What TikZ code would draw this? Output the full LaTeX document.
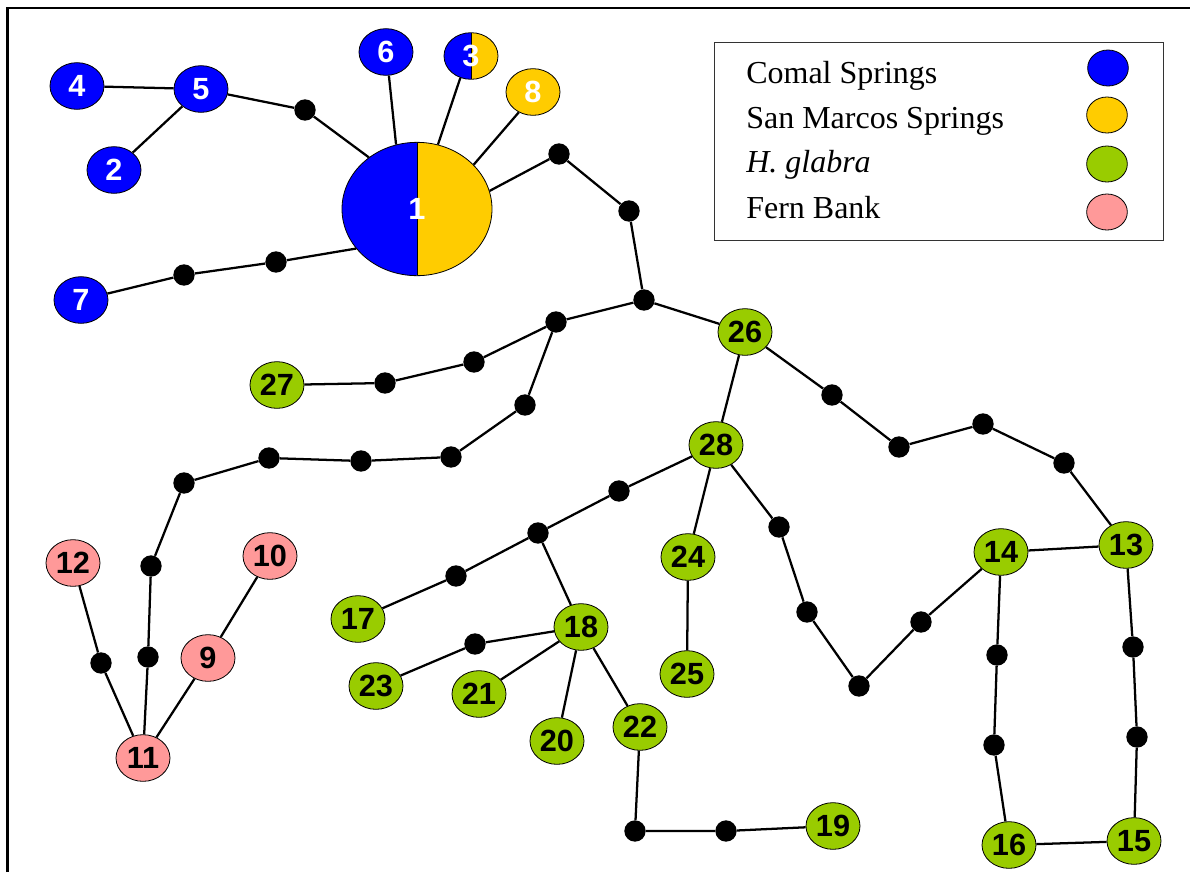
\documentclass[tikz,border=0pt]{standalone}
\usepackage{fontspec}
\setmainfont{Liberation Serif}
\newfontfamily\hapsans{Liberation Sans}
\usetikzlibrary{shapes.geometric}
\definecolor{comal}{HTML}{0000FF}
\definecolor{sanmarcos}{HTML}{FFCC00}
\definecolor{glabra}{HTML}{99CC00}
\definecolor{fernbank}{HTML}{FF9999}
\tikzset{
  hap/.style={ellipse, draw=black, line width=0.6pt, inner sep=0pt,
    minimum width=40.5pt, minimum height=35pt,
    font=\hapsans\bfseries\fontsize{23}{23}\selectfont},
  cs/.style={hap, fill=comal, text=white},
  sm/.style={hap, fill=sanmarcos, text=white},
  hg/.style={hap, fill=glabra, text=black},
  fb/.style={hap, fill=fernbank, text=black},
  split/.style={hap, text=white, path picture={
      \fill[comal] (path picture bounding box.south west) rectangle (path picture bounding box.north);
      \fill[sanmarcos] (path picture bounding box.north) rectangle (path picture bounding box.south east);
      \draw[line width=0.6pt] (path picture bounding box.north) -- (path picture bounding box.south);}},
  mv/.style={circle, fill=black, inner sep=0pt, minimum size=16pt},
  link/.style={line width=1.7pt},
  keyentry/.style={anchor=base west, inner sep=0pt, font=\fontsize{24}{24}\selectfont},
  keyswatch/.style={ellipse, draw=black, line width=0.6pt, minimum width=30.5pt, minimum height=27pt, inner sep=0pt}
}
\begin{document}
\begin{tikzpicture}[x=0.75pt, y=-0.75pt]
\useasboundingbox (0,0) rectangle (1190,872);
% outer frame (left and top edges)
\draw[line width=2.2pt] (7.5,872) -- (7.5,8) -- (1190,8);

% haplotype nodes
\node[split, minimum width=112.5pt, minimum height=100pt] (h1) at (417,209) {1};
\node[cs] (h2) at (114,170) {2};
\node[split] (h3) at (471,56) {3};
\node[cs] (h4) at (77,86) {4};
\node[cs] (h5) at (201,89) {5};
\node[cs] (h6) at (386,52) {6};
\node[cs] (h7) at (81,300) {7};
\node[sm] (h8) at (533,92) {8};
\node[fb] (h9) at (208,658) {9};
\node[fb] (h10) at (270,556) {10};
\node[fb] (h11) at (143,758) {11};
\node[fb] (h12) at (73,563) {12};
\node[hg] (h13) at (1126,545) {13};
\node[hg] (h14) at (1001,552) {14};
\node[hg] (h15) at (1134,841) {15};
\node[hg] (h16) at (1009,845) {16};
\node[hg] (h17) at (358,619) {17};
\node[hg] (h18) at (581,627) {18};
\node[hg] (h19) at (833,826) {19};
\node[hg] (h20) at (557,741) {20};
\node[hg] (h21) at (479,694) {21};
\node[hg] (h22) at (640,727) {22};
\node[hg] (h23) at (376,686) {23};
\node[hg] (h24) at (688,557) {24};
\node[hg] (h25) at (687,674) {25};
\node[hg] (h26) at (745,332) {26};
\node[hg] (h27) at (277,385) {27};
\node[hg] (h28) at (716,445) {28};

% missing intermediate haplotypes
\node[mv] (m1) at (305,110) {};
\node[mv] (m2) at (276,262) {};
\node[mv] (m3) at (184,275) {};
\node[mv] (m4) at (559,154) {};
\node[mv] (m5) at (629,211) {};
\node[mv] (m6) at (644,300) {};
\node[mv] (m7) at (556,322) {};
\node[mv] (m8) at (474,362) {};
\node[mv] (m9) at (385,383) {};
\node[mv] (m10) at (525,405) {};
\node[mv] (m11) at (451,457) {};
\node[mv] (m12) at (361,461) {};
\node[mv] (m13) at (269,458) {};
\node[mv] (m14) at (184,483) {};
\node[mv] (m15) at (151,566) {};
\node[mv] (m16) at (148,657) {};
\node[mv] (m17) at (101,663) {};
\node[mv] (m18) at (832,395) {};
\node[mv] (m19) at (899,447) {};
\node[mv] (m20) at (983,424) {};
\node[mv] (m21) at (1064,463) {};
\node[mv] (m22) at (1133,647) {};
\node[mv] (m23) at (1137,737) {};
\node[mv] (m24) at (997,655) {};
\node[mv] (m25) at (994,745) {};
\node[mv] (m26) at (921,622) {};
\node[mv] (m27) at (859,686) {};
\node[mv] (m28) at (807,612) {};
\node[mv] (m29) at (779,527) {};
\node[mv] (m30) at (619,491) {};
\node[mv] (m31) at (538,533) {};
\node[mv] (m32) at (456,576) {};
\node[mv] (m33) at (475,644) {};
\node[mv] (m34) at (635,831) {};
\node[mv] (m35) at (726,831) {};

% connections
\draw[link] (h4) -- (h5);
\draw[link] (h5) -- (h2);
\draw[link] (h5) -- (m1) -- (h1.133);
\draw[link] (h6.277) -- (h1.108);
\draw[link] (h3.244) -- (h1.72);
\draw[link] (h8.235) -- (h1.38);
\draw[link] (h1.213) -- (m2) -- (m3) -- (h7);
\draw[link] (h1.14) -- (m4) -- (m5) -- (m6) -- (h26);
\draw[link] (m6) -- (m7) -- (m8) -- (m9) -- (h27);
\draw[link] (m7) -- (m10) -- (m11) -- (m12) -- (m13) -- (m14) -- (m15) -- (m16) -- (h11);
\draw[link] (h12) -- (m17) -- (h11);
\draw[link] (h10) -- (h9) -- (h11);
\draw[link] (h26) -- (h28);
\draw[link] (h26) -- (m18) -- (m19) -- (m20) -- (m21) -- (h13);
\draw[link] (h13) -- (h14);
\draw[link] (h13) -- (m22) -- (m23) -- (h15);
\draw[link] (h15) -- (h16);
\draw[link] (h14) -- (m24) -- (m25) -- (h16);
\draw[link] (h14) -- (m26) -- (m27) -- (m28) -- (m29) -- (h28);
\draw[link] (h28) -- (h24) -- (h25);
\draw[link] (h28) -- (m30) -- (m31) -- (m32) -- (h17);
\draw[link] (m31) -- (h18);
\draw[link] (h18) -- (m33) -- (h23);
\draw[link] (h18) -- (h21);
\draw[link] (h18) -- (h20);
\draw[link] (h18) -- (h22) -- (m34) -- (m35) -- (h19);

% legend
\node[draw=black!80, line width=1.1pt, minimum width=336.75pt, minimum height=148.5pt, inner sep=0pt, anchor=north west] (key) at (714,42) {};
\node[keyentry] (k1) at (746,83) {Comal Springs};
\node[keyentry] (k2) at (746,128) {San Marcos Springs};
\node[keyentry] (k3) at (746,172) {\itshape H. glabra};
\node[keyentry] (k4) at (746,218) {Fern Bank};
\node[keyswatch, fill=comal] (s1) at (1108,68) {};
\node[keyswatch, fill=sanmarcos] (s2) at (1107,115) {};
\node[keyswatch, fill=glabra] (s3) at (1107,164) {};
\node[keyswatch, fill=fernbank] (s4) at (1107,212) {};
\end{tikzpicture}
\end{document}
